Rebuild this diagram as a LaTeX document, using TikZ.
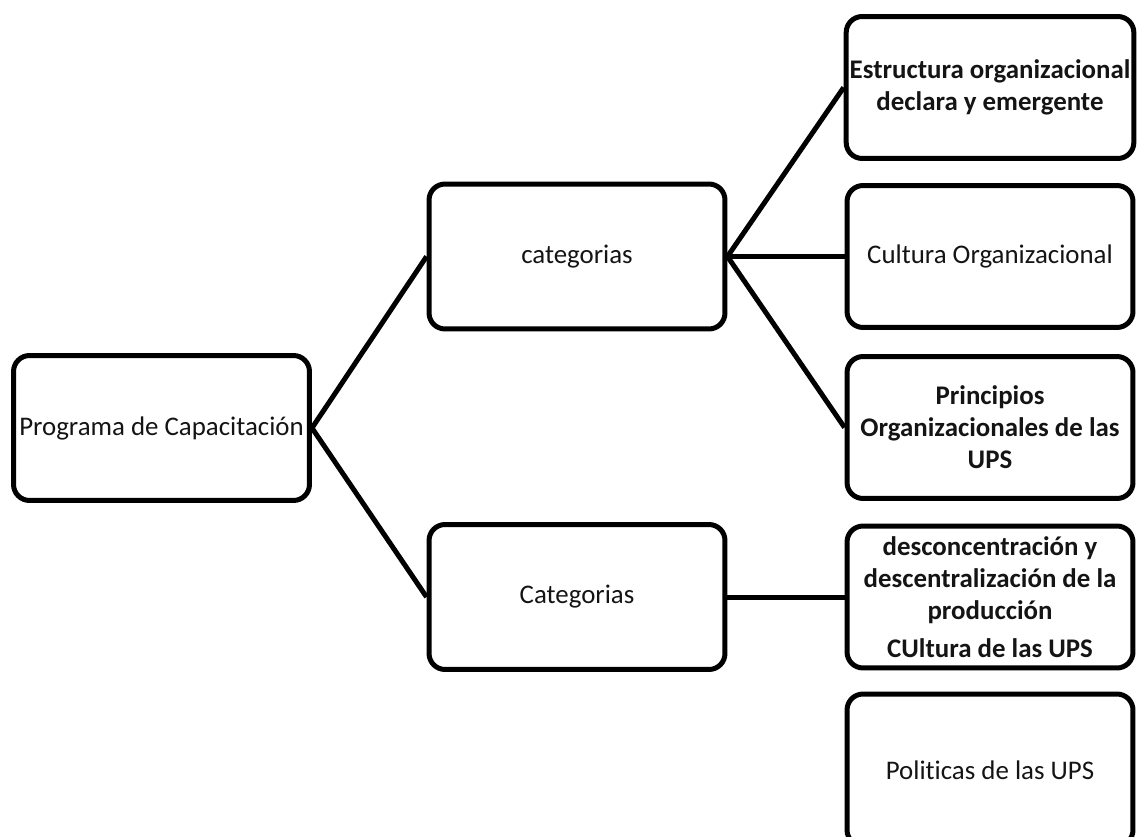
\documentclass[tikz,border=0pt]{standalone}
\usepackage{fontspec}
\setmainfont{Carlito}[Ligatures={NoCommon}]
\usepackage{xcolor}
\usepackage{tikz}
\definecolor{figline}{RGB}{0,0,0}
\definecolor{figtext}{RGB}{20,20,20}
\tikzset{
  bx/.style  ={draw=figline, line width=0.1cm, rounded corners=0.32cm, align=center,
               inner sep=2pt, text=figtext, font=\fontsize{15.3}{18.3}\selectfont},
  bxl/.style ={bx, minimum width=5.92cm, minimum height=2.9cm},
  bxr/.style ={bx, minimum width=5.72cm, minimum height=2.84cm},
  bld/.style ={font=\fontsize{15.3}{18.3}\selectfont\bfseries},
  cn/.style  ={draw=figline, line width=0.1cm},
}
\begin{document}
\begin{tikzpicture}[x=0.02cm,y=-0.02cm]
  \useasboundingbox (0,0) rectangle (1138,837);
  \clip (0,0) rectangle (1138,837);
  % left and middle columns
  \node[bxl] (prog) at (161.5,428) {Programa de Capacitación};
  \node[bxl] (cat1) at (577,256.5) {categorias};
  \node[bxl] (cat2) at (577,597) {Categorias};
  % right column
  \node[bxr,bld] (estr) at (990,87.5) {Estructura organizacional\\declara y emergente};
  \node[bxr] (cult) at (990,256.5) {Cultura Organizacional};
  \node[bxr,bld] (princ) at (990,427.5) {Principios\\Organizacionales de las\\UPS};
  \node[bxr,bld] (desc) at (990,597) {desconcentración y\\descentralización de la\\producción\\[3pt]CUltura de las UPS};
  \node[bxr,minimum height=3.04cm] (pol) at (990,770) {Politicas de las UPS};
  % connectors
  \draw[cn] (prog.east) -- (cat1.west);
  \draw[cn] (prog.east) -- (cat2.west);
  \draw[cn] (cat1.east) -- (estr.west);
  \draw[cn] (cat1.east) -- (cult.west);
  \draw[cn] (cat1.east) -- (princ.west);
  \draw[cn] (cat2.east) -- (desc.west);
\end{tikzpicture}
\end{document}
